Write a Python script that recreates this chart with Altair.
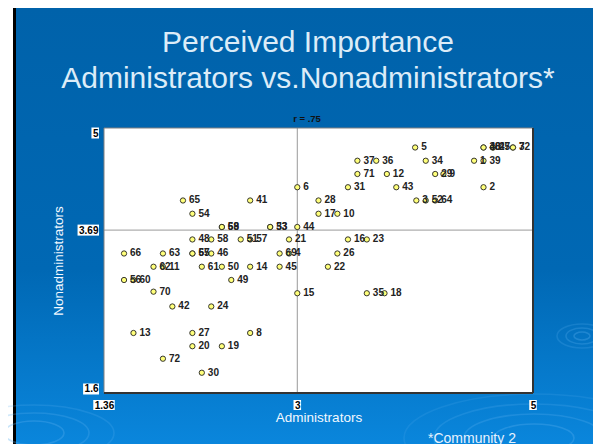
import altair as alt
import pandas as pd

# ---- data ----
ids = list(range(1, 73))
admin = [4.50, 4.58, 4.01, 2.93, 4.00, 3.00, 4.83, 2.60, 4.24, 3.34,
         1.86, 3.76, 1.61, 2.60, 3.00, 3.43, 3.18, 3.74, 2.36, 2.11,
         2.93, 3.26, 3.59, 2.27, 4.66, 3.34, 2.11, 3.18, 4.17, 2.19,
         3.43, 4.83, 2.77, 4.09, 3.59, 3.67, 3.51, 4.58, 4.58, 4.58,
         2.60, 1.94, 3.84, 3.00, 2.85, 2.27, 4.66, 2.11, 2.44, 2.36,
         2.52, 4.09, 2.77, 2.11, 2.11, 1.53, 2.60, 2.27, 2.36, 1.61,
         2.19, 1.78, 1.86, 4.17, 2.03, 1.53, 2.11, 2.36, 2.85, 1.78,
         3.51, 1.86]
nonadmin = [4.58, 4.24, 4.07, 3.39, 4.75, 4.24, 4.75, 2.37, 4.41, 3.90,
            3.22, 4.41, 2.37, 3.22, 2.88, 3.57, 3.90, 2.88, 2.20, 2.20,
            3.57, 3.22, 3.57, 2.71, 4.75, 3.39, 2.37, 4.07, 4.41, 1.86,
            4.24, 4.75, 3.73, 4.58, 2.88, 4.58, 4.58, 4.75, 4.58, 4.75,
            4.07, 2.71, 4.24, 3.73, 3.22, 3.39, 4.75, 3.57, 3.05, 3.22,
            3.57, 4.07, 3.73, 3.90, 3.39, 3.05, 3.57, 3.57, 3.73, 3.05,
            3.22, 3.22, 3.39, 4.07, 4.07, 3.39, 3.39, 3.73, 3.39, 2.90,
            4.41, 2.04]
x_ticks = [1.36, 3, 5]
y_ticks = [1.6, 3.69, 5]
x_ref = 3
y_ref = 3.69
title_lines = ["Perceived Importance", "Administrators vs.Nonadministrators*"]
r_text = "r = .75"
note = "*Community 2"

# ---- layout ----
W, H = 429, 265
PL, PT, PR, PB = 96, 120, 60, 51
FONT = "Liberation Sans"

df = pd.DataFrame({"id": ids, "admin": admin, "nonadmin": nonadmin})
one = pd.DataFrame({"k": [0]})

xs = alt.Scale(domain=[x_ticks[0], x_ticks[-1]], nice=False, zero=False)
ys = alt.Scale(domain=[y_ticks[0], y_ticks[-1]], nice=False, zero=False)

common = dict(labelExpr="'' + datum.value", ticks=False, tickSize=0, domain=False,
              grid=False, labelFont=FONT, labelFontSize=10, labelFontWeight="bold",
              labelColor="black", labelOverlap=False, labelBound=False,
              titleFont=FONT, titleFontSize=13.5, titleFontWeight="normal",
              titleColor="#f2f8ff", titleBaseline="alphabetic", zindex=1)
xaxis = alt.Axis(values=x_ticks, labelFlush=False, labelPadding=7, titleY=28, **common)
yaxis = alt.Axis(values=y_ticks, labelFlush=True, labelPadding=6, titleX=-42,
                 titleY=H / 2, **common)
XT, YT = "Administrators", "Nonadministrators"


def xd(v):
    return alt.XDatum(v, type="quantitative", scale=xs, axis=xaxis, title=XT)


def yd(v):
    return alt.YDatum(v, type="quantitative", scale=ys, axis=yaxis, title=YT)


grad = alt.Gradient(gradient="linear", x1=0, x2=0, y1=0, y2=1, stops=[
    alt.GradientStop(color="#0062aa", offset=0),
    alt.GradientStop(color="#0068b4", offset=0.6),
    alt.GradientStop(color="#0a86dc", offset=1)])

bg = alt.Chart(one).mark_rect(color=grad).encode(
    x=alt.value(-PL), x2=alt.value(W + PR), y=alt.value(-PT), y2=alt.value(H + PB))
strip_w = alt.Chart(one).mark_rect(color="white").encode(
    x=alt.value(-PL), x2=alt.value(-PL + 5), y=alt.value(-PT), y2=alt.value(H + PB))
strip_b = alt.Chart(one).mark_rect(color="black").encode(
    x=alt.value(-PL + 5), x2=alt.value(-PL + 8), y=alt.value(-PT), y2=alt.value(H + PB))


# faint water ripples of the slide background (decoration)
def ripple(cx, cy, rx, ry, op):
    s = max(rx, ry)
    a, b = rx / s, ry / s
    path = (f"M{-a:.4f},0A{a:.4f},{b:.4f},0,1,0,{a:.4f},0"
            f"A{a:.4f},{b:.4f},0,1,0,{-a:.4f},0Z")
    return alt.Chart(one).mark_point(shape=path, size=(2 * s) ** 2, filled=False,
                                     stroke="#5ab0f0", strokeWidth=1.6,
                                     opacity=op).encode(
        x=alt.value(cx), y=alt.value(cy))


ripples = []
for cx, cy, rings in [(478, 208, [(8, 4), (16, 8), (25, 12)]),
                      (430, 310, [(40, 14), (70, 24), (100, 34), (130, 44)]),
                      (-70, 305, [(30, 12), (55, 20), (80, 28)])]:
    for k, (rx, ry) in enumerate(rings):
        ripples.append(ripple(cx, cy, rx, ry, 0.32 - 0.05 * k))

plotbg = alt.Chart(one).mark_rect(color="white").encode(
    x=xd(x_ticks[0]), x2=alt.X2Datum(x_ticks[-1]),
    y=yd(y_ticks[0]), y2=alt.Y2Datum(y_ticks[-1]))
frame = alt.Chart(one).mark_rect(filled=False, stroke="#808080", strokeWidth=1).encode(
    x=xd(x_ticks[0]), x2=alt.X2Datum(x_ticks[-1]),
    y=yd(y_ticks[0]), y2=alt.Y2Datum(y_ticks[-1]))
bottom = alt.Chart(one).mark_rule(color="#333333", strokeWidth=2).encode(
    y=yd(y_ticks[0]), x=xd(x_ticks[0]), x2=alt.X2Datum(x_ticks[-1]))
right = alt.Chart(one).mark_rule(color="#333333", strokeWidth=2).encode(
    x=xd(x_ticks[-1]), y=yd(y_ticks[0]), y2=alt.Y2Datum(y_ticks[-1]))

vline = alt.Chart(one).mark_rule(color="#9a9a9a", strokeWidth=1).encode(x=xd(x_ref))
hline = alt.Chart(one).mark_rule(color="#9a9a9a", strokeWidth=1).encode(y=yd(y_ref))

X = alt.X("admin:Q", scale=xs, axis=xaxis, title=XT)
Y = alt.Y("nonadmin:Q", scale=ys, axis=yaxis, title=YT)

pts = alt.Chart(df).mark_circle(color="#ffff7a", stroke="#222222", strokeWidth=0.9,
                                size=28, opacity=1).encode(x=X, y=Y)
labels = alt.Chart(df).mark_text(align="left", baseline="middle", dx=6, font=FONT,
                                 fontSize=10, fontWeight="bold", color="#222222").encode(
    x=X, y=Y, text="id:N")


def text_w(s, fs=10):
    return sum(0.278 if c == "." else 0.556 for c in s) * fs


def box(xenc, yenc, w, h, yoff=0):
    s = max(w, h)
    a, b = w / s, h / s
    path = f"M{-a:.4f},{-b:.4f}H{a:.4f}V{b:.4f}H{-a:.4f}Z"
    return alt.Chart(one).mark_point(shape=path, size=s * s, filled=True, color="white",
                                     opacity=1, strokeWidth=0, yOffset=yoff).encode(
        x=xenc, y=yenc)


boxes = []
for i, v in enumerate(y_ticks):
    lab = str(v)
    w = text_w(lab) + 2
    yoff = -4 if i == 0 else (5 if i == len(y_ticks) - 1 else 0)
    boxes.append(box(alt.value(-5 - w / 2), yd(v), w, 11, yoff))
for v in x_ticks:
    lab = str(v)
    w = text_w(lab) + 2
    boxes.append(box(xd(v), alt.value(H + 12), w, 10))

rtxt = alt.Chart(one).mark_text(text=r_text, font=FONT, fontSize=9.5, fontWeight="bold",
                                color="#111111", baseline="middle").encode(
    x=alt.value(203), y=alt.value(-9))
title = alt.Chart(one).mark_text(text=title_lines, font=FONT, fontSize=30, lineHeight=36,
                                 color="#dcecf8", align="center",
                                 baseline="alphabetic").encode(
    x=alt.value(204), y=alt.value(-76))
foot = alt.Chart(one).mark_text(text=note, font=FONT, fontSize=14, color="#e6f2ff",
                                align="left", baseline="alphabetic").encode(
    x=alt.value(324), y=alt.value(315))

chart = alt.layer(bg, strip_w, strip_b, *ripples, plotbg, vline, hline, frame, bottom,
                  right, pts, labels, *boxes, rtxt, title, foot).properties(
    width=W, height=H,
    padding={"left": PL, "top": PT, "right": PR, "bottom": PB},
    autosize=alt.AutoSizeParams(type="none"),
).configure_view(stroke=None)

chart.save("out.html", embed_options={"renderer": "svg", "actions": False})
